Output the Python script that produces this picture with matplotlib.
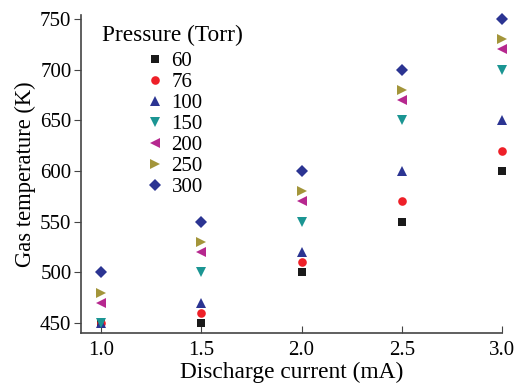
import numpy as np
import matplotlib
matplotlib.use("Agg")
import matplotlib.pyplot as plt

# =========================
# DATA
# =========================
current = [1.0, 1.5, 2.0, 2.5, 3.0]

t_60 = [450, 450, 500, 550, 600]
t_76 = [450, 460, 510, 570, 620]
t_100 = [450, 470, 520, 600, 650]
t_150 = [450, 500, 550, 650, 700]
t_200 = [470, 520, 570, 670, 720]
t_250 = [480, 530, 580, 680, 730]
t_300 = [500, 550, 600, 700, 750]

pressures = ["60", "76", "100", "150", "200", "250", "300"]
series = [t_60, t_76, t_100, t_150, t_200, t_250, t_300]
markers = ["s", "o", "^", "v", "<", ">", "D"]
colors = ["#1a1a1a", "#ee2028", "#2b3492", "#1b9593", "#b6288f", "#a3953a", "#2b3492"]
sizes = [5.2, 6.2, 7, 7, 7, 7, 5.8]

plt.rcParams["font.family"] = ["Liberation Serif", "DejaVu Serif"]
plt.rcParams["font.size"] = 15

fig = plt.figure(figsize=(5.24, 3.86), dpi=100)
ax = fig.add_axes([0.155, 0.137, 0.803, 0.824])

for vals, lab, m, c, ms in zip(series, pressures, markers, colors, sizes):
    ax.plot(current, vals, linestyle="none", marker=m, color=c,
            markersize=ms, markeredgewidth=0, label=lab, clip_on=False)

ax.set_xlim(0.9, 3.0)
ax.set_ylim(440, 754)
ax.set_xticks([1.0, 1.5, 2.0, 2.5, 3.0])
ax.set_xticklabels(["1.0", "1.5", "2.0", "2.5", "3.0"])
ax.set_yticks([450, 500, 550, 600, 650, 700, 750])

ax.spines["top"].set_visible(False)
ax.spines["right"].set_visible(False)
for s in ["left", "bottom"]:
    ax.spines[s].set_color("#444444")
    ax.spines[s].set_linewidth(1.2)
ax.tick_params(axis="x", direction="in", length=5, color="#444444", pad=6)
ax.tick_params(axis="y", direction="out", length=5, color="#444444", pad=2)

ax.set_xlabel("Discharge current (mA)", fontsize=16.8, labelpad=1)
ax.set_ylabel("Gas temperature (K)", fontsize=16.3, labelpad=3)

leg = ax.legend(title="Pressure (Torr)", loc="upper left", frameon=False,
                bbox_to_anchor=(0.02, 1.009), fontsize=15, title_fontsize=16.8,
                labelspacing=0.07, handletextpad=0.2, handlelength=1.2,
                borderaxespad=0.2)
# a bit more room between title and entries
leg._legend_box.sep = 4

plt.savefig("out.png", dpi=100)
